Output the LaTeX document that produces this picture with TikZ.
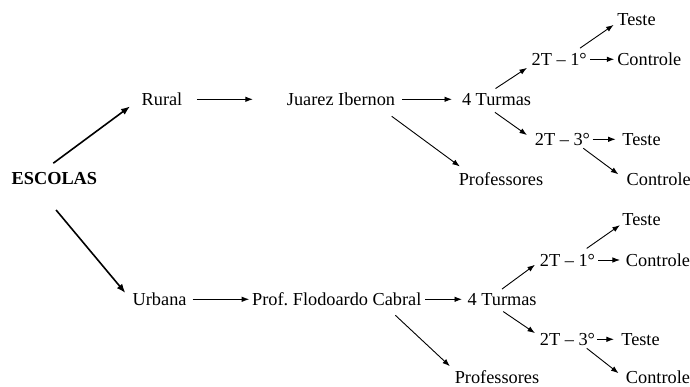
\documentclass[tikz,border=0pt]{standalone}
\usepackage{fontspec}
\setmainfont{Liberation Serif}
\usetikzlibrary{arrows.meta}

\begin{document}
\begin{tikzpicture}[x=1pt,y=-1pt,
		rotulo/.style={inner sep=2pt,outer sep=0pt,font=\fontsize{18.3}{22}\selectfont},
		seta/.style={-{Latex[length=7.5pt,width=5.5pt]},line width=0.9pt},
		setaforte/.style={-{Latex[length=9pt,width=7pt]},line width=1.6pt}]
	\useasboundingbox (0,0) rectangle (690,387);
	\node[rotulo,font=\fontsize{18.3}{22}\selectfont\bfseries] (escolas) at (54.4,178.3) {ESCOLAS};
	% ramo rural
	\node[rotulo] (rural) at (162,99.3) {Rural};
	\node[rotulo] (juarez) at (341,99.3) {Juarez Ibernon};
	\node[rotulo] (turmasA) at (496.5,99.3) {4 Turmas};
	\node[rotulo] (primeiroA) at (559.2,59.3) {2T -- 1°};
	\node[rotulo] (testeAa) at (636.5,20) {Teste};
	\node[rotulo] (controleAa) at (649.3,59.3) {Controle};
	\node[rotulo] (terceiroA) at (562.5,139.3) {2T -- 3°};
	\node[rotulo] (testeAb) at (641.5,139.3) {Teste};
	\node[rotulo] (controleAb) at (658.7,179) {Controle};
	\node[rotulo] (profsA) at (501,179) {Professores};
	% ramo urbano
	\node[rotulo] (urbana) at (159.6,299.3) {Urbana};
	\node[rotulo] (flodoardo) at (336.8,299.3) {Prof.\ Flodoardo Cabral};
	\node[rotulo] (turmasB) at (502.1,299.3) {4 Turmas};
	\node[rotulo] (primeiroB) at (567.5,260) {2T -- 1°};
	\node[rotulo] (testeBa) at (641.5,220) {Teste};
	\node[rotulo] (controleBa) at (658,260) {Controle};
	\node[rotulo] (terceiroB) at (567.5,339.3) {2T -- 3°};
	\node[rotulo] (testeBb) at (640.5,339.3) {Teste};
	\node[rotulo] (controleBb) at (658,377.5) {Controle};
	\node[rotulo] (profsB) at (497,377.5) {Professores};

	\draw[setaforte,shorten <=11.7pt,shorten >=12pt] ([xshift=-10.5pt]escolas.north) -- (rural.west);
	\draw[setaforte,shorten <=30.7pt,shorten >=8.3pt] ([xshift=-18pt]escolas.south) -- (urbana.west);

	\draw[seta,shorten <=12.6pt,shorten >=32pt] (rural.east) -- (juarez.west);
	\draw[seta,shorten <=5pt,shorten >=8pt] (juarez.east) -- (turmasA.west);
	\draw[seta,shorten <=14.4pt,shorten >=6.8pt] ([xshift=-17pt]juarez.south east) -- ([xshift=8.5pt]profsA.north west);
	\draw[seta,shorten <=4.8pt,shorten >=3.2pt] ([xshift=-5pt]turmasA.north) -- (primeiroA.193);
	\draw[seta,shorten <=8.5pt,shorten >=7.3pt] ([xshift=-8.5pt]turmasA.south) -- (terceiroA.west);
	\draw[seta,shorten <=5.4pt,shorten >=2.1pt] ([xshift=16.4pt]primeiroA.north) -- (testeAa.190);
	\draw[seta,shorten <=1.5pt,shorten >=1pt] (primeiroA.east) -- (controleAa.west);
	\draw[seta,shorten <=0.5pt,shorten >=4.7pt] (terceiroA.east) -- (testeAb.west);
	\draw[seta,shorten <=1.3pt,shorten >=7.9pt] ([xshift=19.7pt]terceiroA.south) -- (controleAb.west);

	\draw[seta,shorten <=4.2pt,shorten >=1pt] (urbana.east) -- (flodoardo.west);
	\draw[seta,shorten <=1.7pt,shorten >=3.6pt] (flodoardo.east) -- (turmasB.west);
	\draw[seta,shorten <=10.8pt,shorten >=4pt] ([xshift=-36pt]flodoardo.south east) -- (profsB.north west);
	\draw[seta,shorten <=3.6pt,shorten >=3.7pt] ([xshift=-3pt]turmasB.north) -- (primeiroB.185);
	\draw[seta,shorten <=7.4pt,shorten >=3.6pt] ([xshift=-5pt]turmasB.south) -- (terceiroB.172);
	\draw[seta,shorten <=6.1pt,shorten >=0.5pt] ([xshift=14.2pt]primeiroB.north) -- (testeBa.193);
	\draw[seta,shorten <=1.3pt,shorten >=4pt] (primeiroB.east) -- (controleBa.west);
	\draw[seta,shorten <=0pt,shorten >=5.4pt] (terceiroB.east) -- (testeBb.west);
	\draw[seta,shorten <=1.3pt,shorten >=6.9pt] ([xshift=18.2pt]terceiroB.south) -- (controleBb.west);
\end{tikzpicture}
\end{document}
